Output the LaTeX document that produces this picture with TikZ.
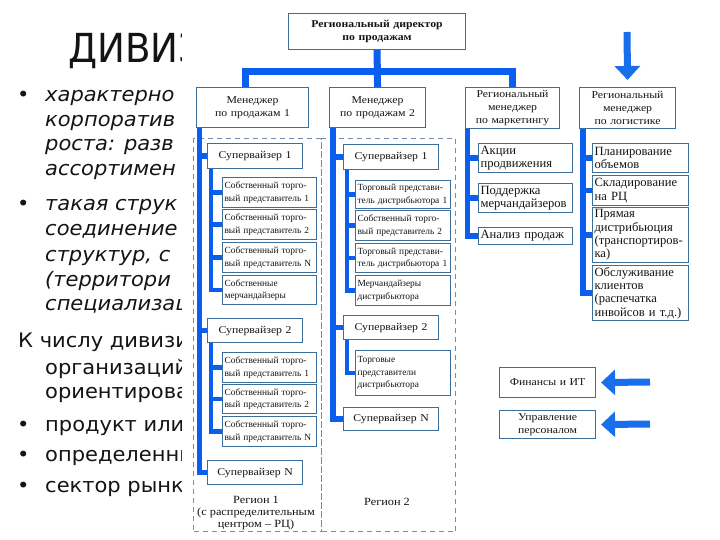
\documentclass[tikz,border=0pt]{standalone}
\usepackage{fontspec}
\setmainfont[FakeStretch=1.05]{DejaVu Sans}
\newfontfamily\titlefont[FakeStretch=0.93]{DejaVu Sans}
\newfontfamily\chartfont[FakeStretch=1.12]{Liberation Serif}
\newfontfamily\itemfont{Liberation Serif}
\usetikzlibrary{arrows.meta}
\pgfdeclarelayer{back}
\pgfdeclarelayer{bg}
\pgfsetlayers{back,bg,main}
\definecolor{busblue}{RGB}{10,95,240}
\definecolor{arrblue}{RGB}{25,110,235}
\definecolor{boxline}{RGB}{60,110,155}
\definecolor{dashline}{RGB}{115,140,175}
\definecolor{txt}{RGB}{20,20,20}
\tikzset{
  slide/.style={anchor=base west, inner sep=0pt, text=txt, font=\fontsize{20}{24}\selectfont},
  slideit/.style={slide, font=\fontsize{20}{24}\selectfont\itshape},
  slidetitle/.style={anchor=base west, inner sep=0pt, text=txt, font=\titlefont\fontsize{40}{48}\selectfont},
  box/.style={draw=boxline, line width=1.1pt, fill=white, inner xsep=2pt, inner ysep=0pt, text=txt},
  topbox/.style={box, align=center, font=\chartfont\fontsize{10.5}{13.5}\selectfont\bfseries},
  mgrbox/.style={box, align=center, font=\chartfont\fontsize{10.5}{13}\selectfont},
  supbox/.style={box, align=center, font=\chartfont\fontsize{10.5}{13}\selectfont},
  itembox/.style={box, align=left, inner xsep=1.5pt, font=\itemfont\fontsize{9.4}{12.5}\selectfont},
  sidebox/.style={box, align=left, inner xsep=1.5pt, font=\itemfont\fontsize{12.6}{13.4}\selectfont},
  region/.style={draw=dashline, line width=1.2pt, dash pattern=on 5pt off 4pt, inner sep=0pt},
  reglabel/.style={align=center, inner sep=0pt, text=txt, font=\chartfont\fontsize{11}{12}\selectfont},
  bus/.style={draw=busblue, line width=7pt},
  spine/.style={draw=busblue, line width=5.5pt},
  subspine/.style={draw=busblue, line width=4.5pt},
  bigarrow/.style={draw=arrblue, line width=7pt, -{Triangle[width=25pt,length=14pt]}}
}
% style, name, x1, y1, x2, y2, text
\newcommand\bx[7]{\node[#1, anchor=north west, minimum width={#5pt-#3pt}, minimum height={#6pt-#4pt}, text width={#5pt-#3pt-4pt}] (#2) at (#3,#4) {#7};}
\begin{document}
\begin{tikzpicture}[x=1pt,y=-1pt]
\useasboundingbox (0,0) rectangle (720,540);
\begin{pgfonlayer}{back}
\fill[white] (0,0) rectangle (720,540);
% slide text
\node[slidetitle] (title) at (68,63) {ДИВИЗИ};
\node[slide] (bul1) at (17,102) {•};
\node[slideit] (l1) at (45,102) {характерно};
\node[slideit] (l2) at (45,127) {корпоратив};
\node[slideit] (l3) at (45,151) {роста: разв};
\node[slideit] (l4) at (45,176) {ассортимен};
\node[slide] (bul2) at (17,211) {•};
\node[slideit] (l5) at (45,211) {такая струк};
\node[slideit] (l6) at (45,236) {соединение};
\node[slideit] (l7) at (45,261) {структур, с};
\node[slideit] (l8) at (45,286) {(территори};
\node[slideit] (l9) at (45,310) {специализац};
\node[slide] (l10) at (18,347) {К числу дивизи};
\node[slide] (l11) at (45,374) {организаций};
\node[slide] (l12) at (45,398) {ориентирова};
\node[slide] (bul3) at (17,431) {•};
\node[slide] (l13) at (45,431) {продукт или};
\node[slide] (bul4) at (17,461) {•};
\node[slide] (l14) at (45,461) {определенны};
\node[slide] (bul5) at (17,492) {•};
\node[slide] (l15) at (45,492) {сектор рынка};
% the picture of the chart covers the slide text
\fill[white] (182,0) rectangle (720,540);
\node[region, anchor=north west, minimum width=128pt, minimum height=393pt] (reg1) at (193,138) {};
\node[region, anchor=north west, minimum width=134pt, minimum height=393pt] (reg2) at (321,138) {};
\end{pgfonlayer}

% top level
\bx{topbox}{top}{288}{13}{465}{49}{Региональный директор\\по продажам}
\bx{mgrbox}{man1}{196}{87}{308}{127}{Менеджер\\по продажам 1}
\bx{mgrbox}{man2}{329}{87}{425}{127}{Менеджер\\по продажам 2}
\bx{mgrbox}{mkt}{465}{87}{559}{128}{Региональный\\менеджер\\по маркетингу}
\bx{mgrbox}{log}{579}{87}{675}{128}{Региональный\\менеджер\\по логистике}

% region 1
\bx{supbox}{r1s1}{207}{143}{302}{168}{Супервайзер 1}
\bx{itembox}{a1}{222}{177}{316}{207}{Собственный~торго-\\вый~представитель~1}
\bx{itembox}{a2}{222}{209}{316}{239}{Собственный~торго-\\вый~представитель~2}
\bx{itembox}{a3}{222}{242}{316}{272}{Собственный~торго-\\вый~представитель~N}
\bx{itembox}{a4}{222}{275}{316}{304}{Собственные\\мерчандайзеры}
\bx{supbox}{r1s2}{207}{318}{302}{342}{Супервайзер 2}
\bx{itembox}{b1}{222}{352}{316}{382}{Собственный~торго-\\вый~представитель~1}
\bx{itembox}{b2}{222}{384}{316}{413}{Собственный~торго-\\вый~представитель~2}
\bx{itembox}{b3}{222}{416}{316}{446}{Собственный~торго-\\вый~представитель~N}
\bx{supbox}{r1sN}{207}{460}{302}{484}{Супервайзер N}
\node[reglabel] (reg1lab) at (256,513) {Регион 1\\(с распределительным\\центром – РЦ)};

% region 2
\bx{supbox}{r2s1}{343}{144}{438}{169}{Супервайзер 1}
\bx{itembox}{c1}{355}{180}{450}{208}{Торговый~представи-\\тель~дистрибьютора~1}
\bx{itembox}{c2}{355}{210}{450}{240}{Собственный~торго-\\вый~представитель~2}
\bx{itembox}{c3}{355}{243}{450}{272}{Торговый~представи-\\тель~дистрибьютора~1}
\bx{itembox}{c4}{355}{275}{450}{305}{Мерчандайзеры\\дистрибьютора}
\bx{supbox}{r2s2}{343}{315}{438}{339}{Супервайзер 2}
\bx{itembox}{d1}{355}{350}{450}{395}{Торговые\\представители\\дистрибьютора}
\bx{supbox}{r2sN}{343}{407}{438}{430}{Супервайзер N}
\node[reglabel] (reg2lab) at (387,502) {Регион 2};

% marketing
\bx{sidebox}{m1}{478}{143}{572}{172}{Акции\\продвижения}
\bx{sidebox}{m2}{478}{183}{572}{212}{Поддержка\\\mbox{мерчандайзеров}}
\bx{sidebox}{m3}{478}{227}{572}{244}{Анализ~продаж}

% logistics
\bx{sidebox}{g1}{592}{143}{688}{172}{Планирование\\объемов}
\bx{sidebox}{g2}{592}{175}{688}{205}{Складирование\\на~РЦ}
\bx{sidebox}{g3}{592}{207}{688}{262}{Прямая\\дистрибьюция\\\mbox{(транспортиров-}\\ка)}
\bx{sidebox}{g4}{592}{265}{688}{320}{Обслуживание\\клиентов\\(распечатка\\\mbox{инвойсов и т.д.)}}

% services
\bx{mgrbox}{fin}{499}{367}{595}{397}{Финансы и ИТ}
\bx{mgrbox}{hr}{499}{410}{595}{438}{Управление\\персоналом}

\coordinate (busy) at (0,72);
\coordinate (downstart) at (627,32);
\coordinate (finstart) at (650,382);
\coordinate (hrstart) at (650,424);

\begin{pgfonlayer}{bg}
\draw[bus] (top.south) -- (man2.north);
\draw[bus] ([xshift=-7pt]man1.north) |- (busy -| mkt.north) -- (mkt.north);
% region 1 spines
\foreach \t in {r1s1,r1s2,r1sN} \draw[spine] ([xshift=3.5pt]man1.south west) |- (\t.west);
\foreach \t in {a1,a2,a3,a4} \draw[subspine] ([xshift=4pt]r1s1.south west) |- (\t.west);
\foreach \t in {b1,b2,b3} \draw[subspine] ([xshift=4pt]r1s2.south west) |- (\t.west);
% region 2 spines
\foreach \t in {r2s1,r2s2,r2sN} \draw[spine] ([xshift=4pt]man2.south west) |- (\t.west);
\foreach \t in {c1,c2,c3,c4} \draw[subspine] ([xshift=4pt]r2s1.south west) |- (\t.west);
\draw[subspine] ([xshift=4pt]r2s2.south west) |- (d1.west);
% marketing and logistics
\foreach \t in {m1,m2,m3} \draw[spine] ([xshift=2.5pt]mkt.south west) |- (\t.west);
\foreach \t in {g1,g2,g3,g4} \draw[spine] ([xshift=4pt]log.south west) |- (\t.west);
\end{pgfonlayer}

\draw[bigarrow] (downstart) -- ([yshift=7pt]log.north);
\draw[bigarrow] (finstart) -- ([xshift=5pt]fin.east);
\draw[bigarrow] (hrstart) -- ([xshift=5pt]hr.east);
\end{tikzpicture}
\end{document}
